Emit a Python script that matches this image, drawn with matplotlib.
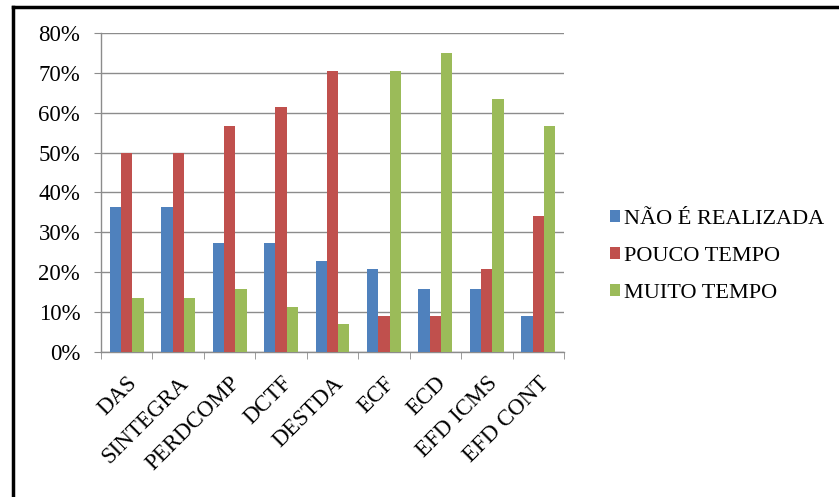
import numpy as np
import matplotlib.pyplot as plt
from matplotlib.lines import Line2D
from matplotlib.ticker import FixedLocator, PercentFormatter

categories = ['DAS', 'SINTEGRA', 'PERDCOMP', 'DCTF', 'DESTDA', 'ECF', 'ECD', 'EFD ICMS', 'EFD CONT']
nao_realizada = [36.4, 36.4, 27.3, 27.3, 22.7, 20.8, 15.9, 15.9, 9.1]
pouco_tempo = [50.0, 50.0, 56.8, 61.4, 70.5, 9.1, 9.1, 20.8, 34.0]
muito_tempo = [13.6, 13.6, 15.9, 11.4, 7.0, 70.5, 75.0, 63.4, 56.8]
series_names = ['NÃO É REALIZADA', 'POUCO TEMPO', 'MUITO TEMPO']
colors = ['#4F81BD', '#C0504D', '#9BBB59']

plt.rcParams['font.family'] = ['Liberation Serif', 'DejaVu Serif']

fig = plt.figure(figsize=(8.39, 4.97), dpi=100)
ax = fig.add_axes([0.1204, 0.2918, 0.5518, 0.6418])

x = np.arange(len(categories))
w = 0.22
for k, vals in enumerate([nao_realizada, pouco_tempo, muito_tempo]):
    ax.bar(x + (k - 1) * w, vals, width=w, color=colors[k], label=series_names[k], zorder=3)

ax.set_xlim(-0.5, len(categories) - 0.5)
ax.set_ylim(0, 80)
ax.set_yticks(np.arange(0, 81, 10))
ax.yaxis.set_major_formatter(PercentFormatter(decimals=0))
ax.grid(axis='y', color='#8c8c8c', linewidth=1, zorder=0)

ax.set_xticks(x)
ax.set_xticklabels(categories, rotation=45, ha='right', rotation_mode='anchor', fontsize=16.5)
ax.tick_params(axis='x', length=0, pad=15)
ax.xaxis.set_minor_locator(FixedLocator(np.arange(-0.5, len(categories), 1)))
ax.tick_params(axis='x', which='minor', length=5, color='#8c8c8c', direction='out')
ax.tick_params(axis='y', length=5, color='#8c8c8c', labelsize=16.5, pad=10)

for s in ['top', 'right']:
    ax.spines[s].set_visible(False)
for s in ['left', 'bottom']:
    ax.spines[s].set_color('#8c8c8c')
    ax.spines[s].set_linewidth(1)

ax.legend(loc='center left', bbox_to_anchor=(1.075, 0.30), frameon=False, fontsize=16,
          borderpad=0, handlelength=0.45, handleheight=0.45, handletextpad=0.2, labelspacing=0.8)

# outer frame (left and top edges only)
fig.add_artist(Line2D([0.0155, 0.0155], [0, 0.986], transform=fig.transFigure, color='black', lw=2.5))
fig.add_artist(Line2D([0.0155, 1.0], [0.986, 0.986], transform=fig.transFigure, color='black', lw=2.5))

plt.savefig('out.png', dpi=100)
